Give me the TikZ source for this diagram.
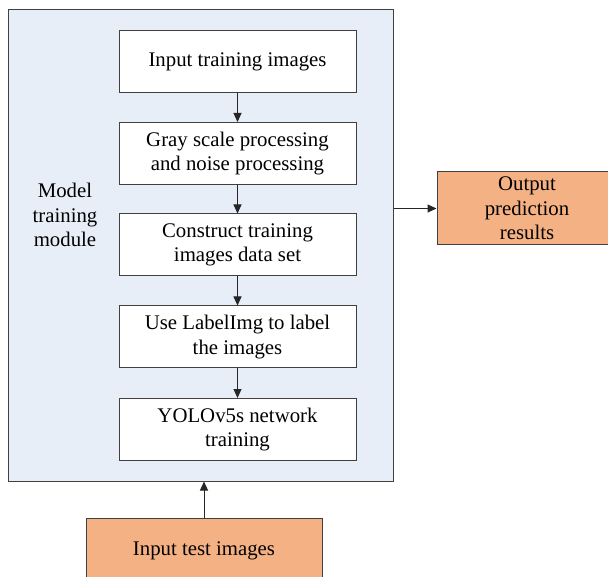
\documentclass[tikz,border=0pt]{standalone}
\usepackage{fontspec}
\setmainfont{Liberation Serif}
\usetikzlibrary{arrows.meta}
\definecolor{panelblue}{HTML}{E8EEF8}
\definecolor{orangebox}{HTML}{F4B183}
\definecolor{edgegray}{HTML}{404040}
\begin{document}
\begin{tikzpicture}[x=1pt,y=-1pt,
  txt/.style={font=\fontsize{20.8}{24.5}\selectfont},
  stepbox/.style={txt,draw=edgegray,line width=1pt,fill=white,minimum width=237pt,minimum height=62pt,
    align=center,inner sep=0pt},
  outbox/.style={txt,draw=edgegray,line width=1pt,fill=orangebox,align=center,inner sep=0pt},
  flow/.style={-{Triangle[length=9pt,width=8pt]},line width=1pt,draw=black!85}]
\useasboundingbox (0,0) rectangle (608,577);
% training module panel
\node[draw=edgegray,line width=1pt,fill=panelblue,minimum width=385pt,minimum height=471pt,inner sep=0pt]
  (panel) at (200.5,245.5) {};
\node[txt,align=center] (label) at (65,215) {Model\\training\\module};
% processing steps
\node[stepbox] (s1) at (237.5,61.5) {Input training images};
\node[stepbox] (s2) at (237.5,153.5) {Gray scale processing\\and noise processing};
\node[stepbox] (s3) at (237.5,245) {Construct training\\images data set};
\node[stepbox] (s4) at (237.5,337) {Use LabelImg to label\\the images};
\node[stepbox] (s5) at (237.5,429.5) {YOLOv5s network\\training};
\draw[flow] (s1) -- (s2);
\draw[flow] (s2) -- (s3);
\draw[flow] (s3) -- (s4);
\draw[flow] (s4) -- (s5);
% input and output
\node[outbox,minimum width=180pt,minimum height=73pt] (out) at (527,208.5) {Output\\prediction\\results};
\node[outbox,minimum width=236pt,minimum height=66pt] (in) at (204,551) {Input test images};
\draw[flow] (panel.east |- out.west) -- (out.west);
\draw[flow] (in.north) -- (in.north |- panel.south);
\end{tikzpicture}
\end{document}
